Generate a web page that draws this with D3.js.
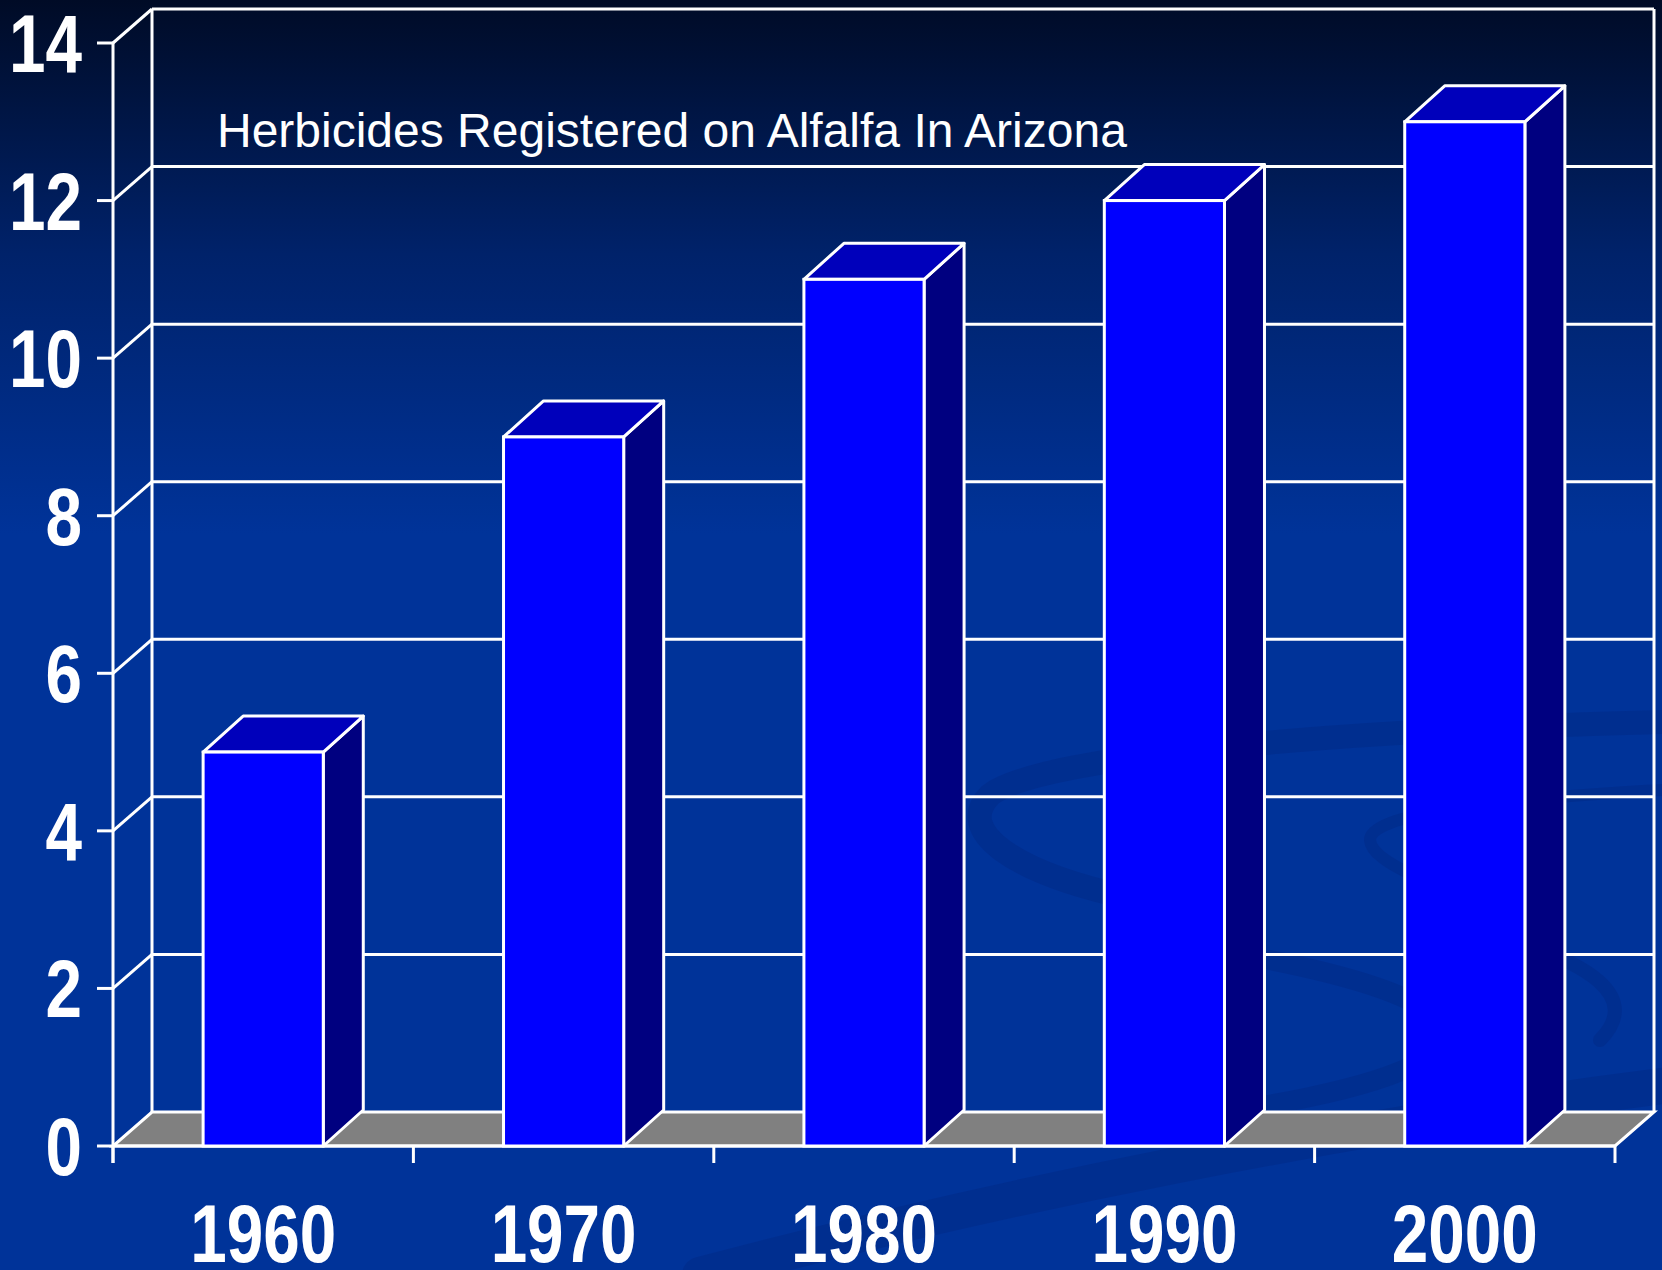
<!DOCTYPE html>
<html>
<head>
<meta charset="utf-8">
<script src="https://cdn.jsdelivr.net/npm/d3@7"></script>
<style>
html,body{margin:0;padding:0;background:#003399;}
svg{display:block;}
.num{font-family:"Liberation Sans",Arial,sans-serif;font-weight:bold;fill:#fff;}
</style>
</head>
<body>
<svg id="chart" width="1662" height="1270"></svg>
<script>
// ---- data ----
const years = ["1960", "1970", "1980", "1990", "2000"];
const herbicides = [5, 9, 11, 12, 13];
const yTicks = [0, 2, 4, 6, 8, 10, 12, 14];
const chartTitle = "Herbicides Registered on Alfalfa In Arizona";

(function () {
// ---- layout ----
const W = 1662, H = 1270;
const pLeft = 113, pRight = 1615, pBottom = 1146, pTop = 43;
const wall = {dx: 39, dy: -34};
const barDepth = {dx: 40, dy: -36};
const narrow = 0.8;

const svg = d3.select("#chart");

// background
const defs = svg.append("defs");
const grad = defs.append("linearGradient").attr("id", "bg").attr("x1", 0).attr("y1", 0).attr("x2", 0).attr("y2", 1);
grad.append("stop").attr("offset", "0").attr("stop-color", "#000b26");
grad.append("stop").attr("offset", "0.2").attr("stop-color", "#00226a");
grad.append("stop").attr("offset", "0.42").attr("stop-color", "#003399");
grad.append("stop").attr("offset", "1").attr("stop-color", "#003399");
svg.append("rect").attr("width", W).attr("height", H).attr("fill", "url(#bg)");

// faint swirls
const swirl = svg.append("g").attr("fill", "none").attr("stroke", "#002a86").attr("stroke-linecap", "round").attr("opacity", 0.5);
swirl.append("path").attr("d", "M1662,722 C1350,730 1040,755 990,795 C955,830 1010,872 1130,898").attr("stroke-width", 24);
swirl.append("path").attr("d", "M1662,790 C1480,800 1370,815 1370,840 C1372,870 1480,900 1560,930").attr("stroke-width", 12);
swirl.append("path").attr("d", "M1270,960 C1420,990 1480,1025 1420,1062 C1370,1090 1260,1108 1160,1122").attr("stroke-width", 20);
swirl.append("path").attr("d", "M1470,930 C1600,960 1640,1000 1600,1040").attr("stroke-width", 14);
swirl.append("path").attr("d", "M700,1275 C1000,1195 1350,1125 1670,1085").attr("stroke-width", 36);

// scales
const x = d3.scaleBand().domain(years).range([pLeft, pRight]).paddingInner(0.6).paddingOuter(0.3);
const y = d3.scaleLinear().domain([0, 14]).range([pBottom, pTop]);
const step = x.step();

const line = "#ffffff", lw = 3;

// back wall grid lines
const g = svg.append("g").attr("stroke", line).attr("stroke-width", lw).attr("fill", "none");
yTicks.forEach(t => {
  if (t > 0) {
    g.append("line").attr("x1", pLeft + wall.dx).attr("x2", pRight + wall.dx)
      .attr("y1", y(t) + wall.dy).attr("y2", y(t) + wall.dy);
    g.append("line").attr("x1", pLeft).attr("y1", y(t)).attr("x2", pLeft + wall.dx).attr("y2", y(t) + wall.dy);
  }
});
g.append("line").attr("x1", pLeft + wall.dx).attr("x2", pLeft + wall.dx).attr("y1", y(14) + wall.dy).attr("y2", y(0) + wall.dy);
g.append("line").attr("x1", pRight + wall.dx).attr("x2", pRight + wall.dx).attr("y1", y(14) + wall.dy).attr("y2", y(0) + wall.dy);

// floor
svg.append("path")
  .attr("d", `M${pLeft},${y(0)} L${pRight},${y(0)} L${pRight + wall.dx},${y(0) + wall.dy} L${pLeft + wall.dx},${y(0) + wall.dy} Z`)
  .attr("fill", "#808080").attr("stroke", line).attr("stroke-width", lw);

// front axis
const ax = svg.append("g").attr("stroke", line).attr("stroke-width", lw).attr("fill", "none");
ax.append("line").attr("x1", pLeft).attr("x2", pLeft).attr("y1", y(14)).attr("y2", y(0) + 17);
yTicks.forEach(t => {
  ax.append("line").attr("x1", pLeft - 16).attr("x2", pLeft).attr("y1", y(t)).attr("y2", y(t));
});
ax.append("line").attr("x1", pLeft).attr("x2", pRight).attr("y1", y(0)).attr("y2", y(0));
d3.range(years.length + 1).forEach(i => {
  const xx = pLeft + i * step;
  ax.append("line").attr("x1", xx).attr("x2", xx).attr("y1", y(0)).attr("y2", y(0) + 17);
});

// bars
const bars = svg.append("g").selectAll("g").data(years.map((d, i) => ({year: d, value: herbicides[i]}))).join("g");
bars.each(function(d) {
  const gb = d3.select(this);
  const x0 = x(d.year), x1 = x0 + x.bandwidth();
  const y0 = y(0), y1 = y(d.value);
  const dx = barDepth.dx, dy = barDepth.dy;
  gb.append("path").attr("d", `M${x1},${y1} L${x1 + dx},${y1 + dy} L${x1 + dx},${y0 + dy} L${x1},${y0} Z`)
    .attr("fill", "#000080").attr("stroke", line).attr("stroke-width", lw).attr("stroke-linejoin", "round");
  gb.append("path").attr("d", `M${x0},${y1} L${x0 + dx},${y1 + dy} L${x1 + dx},${y1 + dy} L${x1},${y1} Z`)
    .attr("fill", "#0000bb").attr("stroke", line).attr("stroke-width", lw).attr("stroke-linejoin", "round");
  gb.append("rect").attr("x", x0).attr("y", y1).attr("width", x1 - x0).attr("height", y0 - y1)
    .attr("fill", "#0000ff").attr("stroke", line).attr("stroke-width", lw);
});

// y labels
svg.append("g").selectAll("text").data(yTicks).join("text")
  .attr("class", "num")
  .attr("transform", d => `translate(82,${y(d) + 29}) scale(${narrow},1)`)
  .attr("text-anchor", "end").attr("font-size", 82).text(d => d);

// x labels
svg.append("g").selectAll("text").data(years).join("text")
  .attr("class", "num")
  .attr("transform", d => `translate(${x(d) + x.bandwidth() / 2},1262) scale(${narrow},1)`)
  .attr("text-anchor", "middle").attr("font-size", 82).text(d => d);

// title
svg.append("text").attr("x", 217).attr("y", 147)
  .attr("font-family", "'Liberation Sans', Arial, sans-serif").attr("font-size", 48)
  .attr("fill", "#fff").text(chartTitle);
})();
</script>
</body>
</html>
